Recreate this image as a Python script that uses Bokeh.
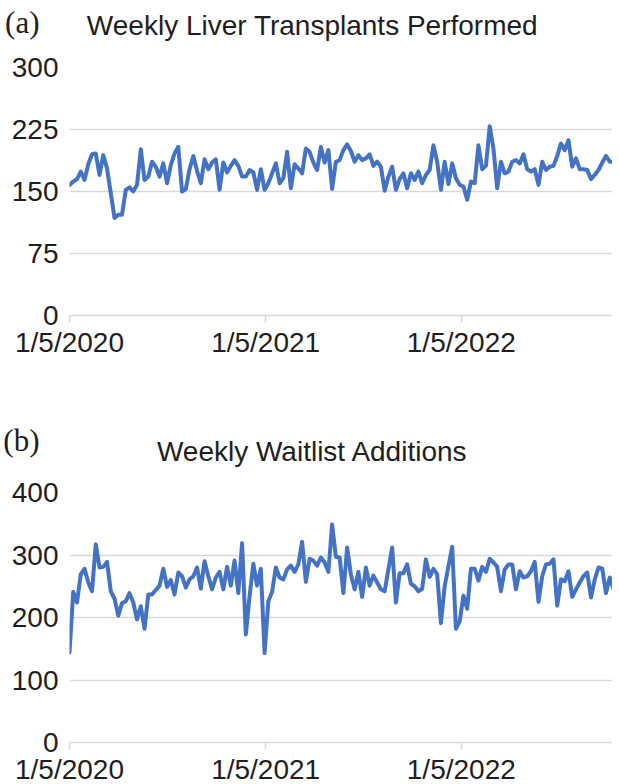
import pandas as pd
from bokeh.plotting import figure
from bokeh.models import ColumnDataSource, FixedTicker, Range1d
from bokeh.layouts import column
from bokeh.core.properties import value
from bokeh.embed import file_html
from bokeh.resources import INLINE

# ---------------- data ----------------
start_week = "2020-01-05"
n_weeks = 146
weeks = pd.date_range(start_week, periods=n_weeks, freq="7D")

transplants = [
    158, 162, 165, 174, 164, 183, 195, 196, 170, 194,
    178, 148, 118, 122, 122, 152, 155, 150, 158, 201,
    164, 168, 186, 180, 168, 184, 160, 182, 196, 204,
    150, 153, 177, 193, 175, 160, 189, 177, 185, 189,
    152, 185, 173, 181, 188, 181, 168, 168, 176, 173,
    152, 177, 152, 160, 172, 184, 160, 166, 198, 154,
    183, 178, 172, 202, 198, 185, 176, 204, 185, 200,
    153, 186, 188, 200, 207, 199, 186, 194, 188, 190,
    195, 181, 186, 180, 151, 168, 180, 152, 165, 172,
    154, 172, 164, 174, 160, 170, 176, 206, 186, 152,
    186, 159, 184, 166, 158, 156, 140, 162, 160, 206,
    177, 181, 229, 202, 154, 186, 172, 174, 186, 188,
    184, 195, 177, 174, 177, 158, 186, 176, 180, 181,
    193, 208, 200, 212, 180, 190, 177, 177, 176, 165,
    170, 176, 185, 193, 186, 186,
]

waitlist = [
    144, 241, 224, 269, 278, 256, 242, 317, 280, 281,
    289, 242, 230, 203, 223, 226, 239, 224, 197, 218,
    182, 237, 237, 244, 251, 278, 249, 260, 237, 272,
    266, 248, 261, 266, 280, 246, 290, 266, 245, 264,
    273, 245, 281, 251, 291, 239, 319, 173, 234, 286,
    251, 278, 143, 226, 241, 280, 264, 261, 277, 283,
    273, 285, 321, 257, 294, 291, 283, 296, 288, 273,
    349, 297, 296, 239, 312, 269, 245, 273, 233, 280,
    251, 267, 256, 245, 242, 277, 312, 224, 271, 271,
    285, 254, 250, 242, 246, 293, 265, 278, 269, 191,
    250, 282, 313, 182, 194, 235, 214, 278, 278, 259,
    281, 273, 294, 288, 281, 242, 277, 285, 285, 245,
    274, 264, 266, 274, 289, 225, 266, 285, 286, 293,
    219, 261, 258, 274, 233, 245, 256, 266, 272, 232,
    261, 280, 278, 239, 264, 246,
]

x_tick_dates = ["2020-01-05", "2021-01-05", "2022-01-05"]
x_tick_labels = ["1/5/2020", "1/5/2021", "1/5/2022"]
yticks_a = [0, 75, 150, 225, 300]
yticks_b = [0, 100, 200, 300, 400]
title_a = "Weekly Liver Transplants Performed"
title_b = "Weekly Waitlist Additions"
tag_a = "(a)"
tag_b = "(b)"

# ---------------- styling ----------------
LINE = "#4472C4"
GRID = "#d9d9d9"
TXT = "#1e1e1e"
SANS = "Liberation Sans"
SERIF = "Liberation Serif"

FIG_W = 612
LEFT = 68
FRAME_W = FIG_W - LEFT

tick_ms = [int(pd.Timestamp(d).value // 10**6) for d in x_tick_dates]
x0 = int(pd.Timestamp(weeks[0]).value // 10**6)
x1 = int(pd.Timestamp(weeks[-1]).value // 10**6)


def header(height, title, title_y, tag):
    """Strip above a panel: the tag sits in the left margin, the title is centred."""
    h = figure(frame_width=FRAME_W, frame_height=height,
               x_range=Range1d(LEFT, FIG_W), y_range=Range1d(0, height),
               toolbar_location=None, output_backend="svg",
               x_axis_location=None,
               min_border_left=LEFT, min_border_right=0,
               min_border_top=0, min_border_bottom=0)
    h.outline_line_color = None
    h.grid.visible = False
    ya = h.yaxis[0]
    ya.ticker = FixedTicker(ticks=[])
    ya.axis_line_color = None
    ya.major_tick_line_color = None
    ya.minor_tick_line_color = None
    ya.major_tick_out = 0
    ya.major_label_standoff = 0
    ya.axis_label = tag
    ya.axis_label_orientation = "horizontal"
    ya.axis_label_text_font = SERIF
    ya.axis_label_text_font_style = "normal"
    ya.axis_label_text_font_size = "31px"
    ya.axis_label_text_color = TXT
    ya.axis_label_standoff = 30
    h.text(x=[311], y=[title_y], text=[title],
           text_font=value(SANS), text_font_size=value("28px"),
           text_color=TXT, text_align="center", text_baseline="alphabetic")
    return h


def panel(vals, yticks, ymax, frame_h, top, bottom):
    src = ColumnDataSource(dict(week=weeks, v=vals))
    p = figure(x_axis_type="datetime", frame_width=FRAME_W, frame_height=frame_h,
               x_range=Range1d(x0, x1), y_range=Range1d(0, ymax),
               toolbar_location=None, output_backend="svg",
               min_border_left=LEFT, min_border_right=0,
               min_border_top=top, min_border_bottom=bottom)
    p.outline_line_color = None

    p.line("week", "v", source=src, line_color=LINE, line_width=4.0,
           line_join="round", line_cap="round")

    p.xgrid.visible = False
    p.ygrid.grid_line_color = GRID
    p.ygrid.grid_line_width = 1.6

    xa = p.xaxis[0]
    xa.ticker = FixedTicker(ticks=tick_ms)
    xa.major_label_overrides = {t: l for t, l in zip(tick_ms, x_tick_labels)}
    xa.axis_line_color = GRID
    xa.axis_line_width = 1.6
    xa.major_tick_line_color = GRID
    xa.major_tick_line_width = 1.4
    xa.major_tick_out = 7
    xa.major_tick_in = 0
    xa.minor_tick_line_color = None
    xa.major_label_text_font = SANS
    xa.major_label_text_font_size = "28px"
    xa.major_label_text_color = TXT
    xa.major_label_standoff = 4

    ya = p.yaxis[0]
    ya.ticker = FixedTicker(ticks=yticks)
    ya.axis_line_color = None
    ya.major_tick_line_color = None
    ya.minor_tick_line_color = None
    ya.major_label_text_font = SANS
    ya.major_label_text_font_size = "28px"
    ya.major_label_text_color = TXT
    ya.major_label_standoff = 5
    return p


ha = header(44, title_a, 19, tag_a)
pa = panel(transplants, yticks_a, 300, 248, top=23, bottom=93)
hb = header(64, title_b, 21, tag_b)
pb = panel(waitlist, yticks_b, 400, 250, top=20, bottom=40)

layout = column(ha, pa, hb, pb, spacing=0)
open("out.html", "w").write(file_html(layout, INLINE))
